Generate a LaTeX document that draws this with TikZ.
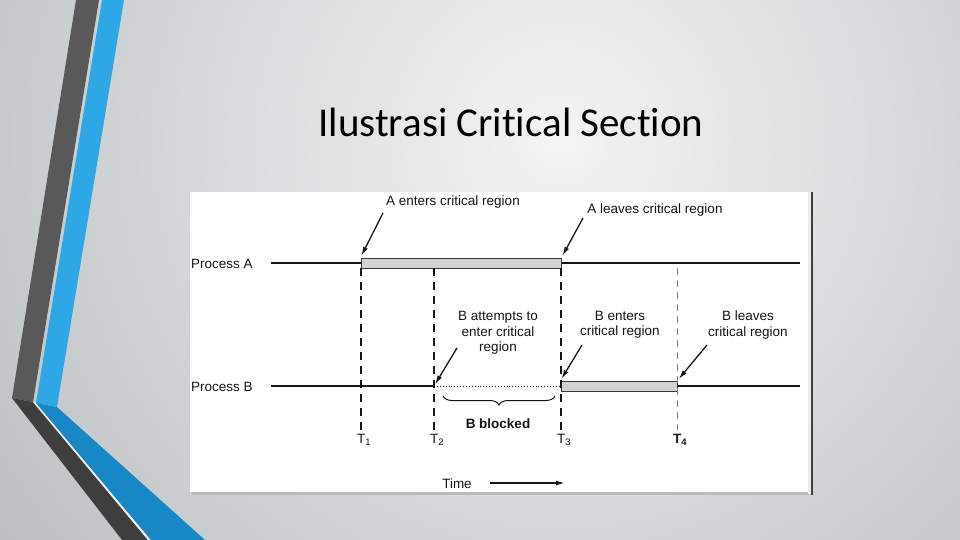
\documentclass[tikz,border=0pt]{standalone}
\usepackage{fontspec}
\setmainfont{Liberation Sans}
\newfontfamily\titlefont[Ligatures=NoCommon]{Carlito}
\usetikzlibrary{arrows.meta,decorations.pathreplacing}
\definecolor{bgin}{HTML}{F3F4F4}
\definecolor{bgout}{HTML}{B5B9BB}
\definecolor{darkband}{HTML}{595959}
\definecolor{darkbandlow}{HTML}{3E3E3E}
\definecolor{blueband}{HTML}{2EA7E6}
\definecolor{bluebandlow}{HTML}{1787C6}
\definecolor{barfill}{HTML}{D2D2D2}
\definecolor{ink}{HTML}{151515}
\tikzset{
  lbl/.style={font=\fontsize{13.5}{15.5}\selectfont, text=ink, inner sep=0pt, align=center},
  tline/.style={line width=1.3pt, draw=ink},
  critbar/.style={draw=ink!85, line width=1pt, fill=barfill, inner sep=0pt, minimum height=10pt},
  dashA/.style={line width=1.6pt, draw=ink, dash pattern=on 8pt off 6pt},
  dashB/.style={line width=0.7pt, draw=gray, dash pattern=on 7pt off 5pt},
  pointer/.style={line width=1.3pt, draw=ink, -{Latex[length=9pt,width=5pt]}, shorten >=2pt},
}
\begin{document}
\begin{tikzpicture}[x=1pt,y=-1pt]
\useasboundingbox (0,0) rectangle (960,540);
% background
\begin{scope}
\clip (0,0) rectangle (960,540);
\shade[inner color=bgin, outer color=bgout] (-220,-640) rectangle (1340,920);
% left decoration
\fill[darkband] (76,0) -- (99,0) -- (33,402) -- (12,398) -- cycle;
\fill[blueband] (102,0) -- (124,0) -- (57,407) -- (36,403) -- cycle;
\fill[darkbandlow] (12,398) -- (33,402) -- (148,540) -- (122,540) -- cycle;
\fill[white!85!gray] (33,402) -- (36,403) -- (151,540) -- (148,540) -- cycle;
\fill[bluebandlow] (36,403) -- (57,407) -- (205,540) -- (151,540) -- cycle;
\end{scope}
% title
\node[font=\titlefont\fontsize{41}{45}\selectfont, text=black, anchor=base, inner sep=0pt] (title) at (511,137) {Ilustrasi Critical Section};
% image frame
\fill[gray!55] (192,492) rectangle (810,495);
\fill[white] (190,192) rectangle (808,492);
\fill[gray!15] (808,192) rectangle (811,494);
\draw[line width=2.5pt, draw=black!75] (812,192) -- (812,495);

% process labels
\node[lbl, anchor=west] (pa) at (191,264) {Process A};
\node[lbl, anchor=west] (pb) at (191,387) {Process B};

% coordinates on time lines
\coordinate (a0) at (271,263);
\coordinate (aE) at (800,263);
\coordinate (b0) at (271,386);
\coordinate (bT2) at (434,386);
\coordinate (bE) at (800,386);

% critical region bars
\node[critbar, minimum width=200pt] (barA) at (461,263) {};
\node[critbar, minimum width=116pt] (barB) at (619,386) {};

% timelines
\draw[tline] (a0) -- (barA.west);
\draw[tline] (barA.east) -- (aE);
\draw[tline] (b0) -- (bT2);
\draw[line width=0.9pt, draw=ink, dotted] (bT2) -- (barB.west);
\draw[tline] (barB.east) -- (bE);

% vertical time markers
\coordinate (v1top) at (361,268);
\coordinate (v1bot) at (361,430);
\coordinate (v2top) at (434,268);
\coordinate (v2bot) at (434,430);
\coordinate (v3top) at (561,268);
\coordinate (v3bot) at (561,430);
\coordinate (v4top) at (677,268);
\coordinate (v4bot) at (677,430);
\draw[dashA] (v1top) -- (v1bot);
\draw[dashA] (v2top) -- (v2bot);
\draw[dashA] (v3top) -- (v3bot);
\draw[dashB] (v4top) -- (v4bot);

% time labels
\node[lbl, anchor=west] (t1) at (357,440) {T\textsubscript{1}};
\node[lbl, anchor=west] (t2) at (430,440) {T\textsubscript{2}};
\node[lbl, anchor=west] (t3) at (557,440) {T\textsubscript{3}};
\node[lbl, anchor=west, font=\bfseries\fontsize{13.5}{15.5}\selectfont] (t4) at (673,440) {T\textsubscript{4}};

% annotations
\node[lbl] (aent) at (453,202) {A enters critical region};
\node[lbl] (alv) at (655,210) {A leaves critical region};
\node[lbl] (batt) at (498,333) {B attempts to\\enter critical\\region};
\node[lbl] (bent) at (620,325) {B enters\\critical region};
\node[lbl] (blv) at (748,325) {B leaves\\critical region};

\coordinate (aentTail) at (383,213);
\coordinate (alvTail) at (583,218);
\coordinate (battTail) at (457,348);
\coordinate (bentTail) at (582,345);
\coordinate (blvTail) at (707,345);

\draw[pointer] (aentTail) -- (barA.north west);
\draw[pointer] (alvTail) -- (barA.north east);
\draw[pointer] (battTail) -- (bT2);
\draw[pointer] (bentTail) -- (barB.north west);
\draw[pointer] (blvTail) -- (barB.north east);

% blocked brace
\coordinate (brL) at (443,396);
\coordinate (brR) at (555,396);
\draw[line width=1pt, draw=ink, decorate, decoration={brace, mirror, amplitude=9pt}] (brL) -- (brR);
\node[lbl, font=\bfseries\fontsize{13.5}{15.5}\selectfont] (blk) at (498,424) {B blocked};

% time axis
\node[lbl] (time) at (457,484) {Time};
\coordinate (tArrS) at (490,483);
\coordinate (tArrE) at (565,483);
\draw[line width=1.6pt, draw=ink, -{Latex[length=9pt,width=5pt]}] (tArrS) -- (tArrE);
\end{tikzpicture}
\end{document}
